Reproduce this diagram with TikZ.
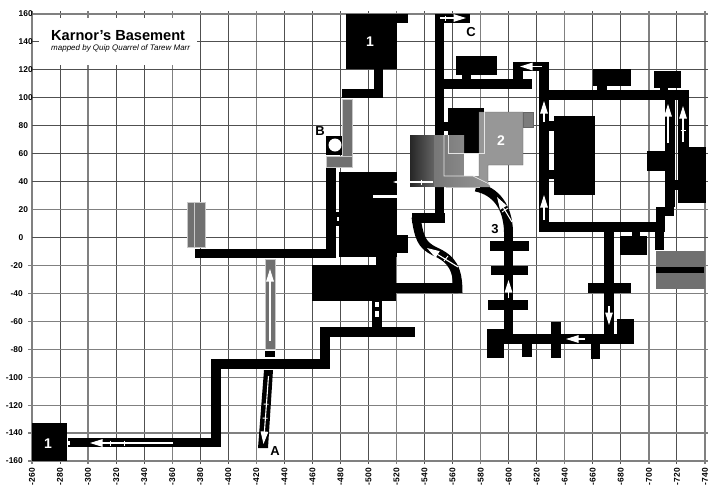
\documentclass[tikz,border=0pt]{standalone}
\usepackage{fontspec}
\setmainfont{Liberation Sans}
\usetikzlibrary{arrows.meta}
\definecolor{gridthick}{HTML}{808080}
\definecolor{gridthin}{HTML}{505050}
\definecolor{midgray}{HTML}{707070}
\definecolor{roomtwo}{HTML}{979797}
\definecolor{edgegray}{HTML}{C8C8C8}
\tikzset{
  solid room/.style={fill=black,draw=none},
  gray room/.style={fill=midgray,draw=edgegray,line width=.5pt},
  light room/.style={fill=roomtwo,draw=black!60,line width=.4pt},
  passage/.style={draw=black,line width=9pt,line cap=butt,line join=miter},
  wayline/.style={draw=white,line width=1.1pt,-{Triangle[length=12.5pt,width=7.5pt]}},
  waytick/.style={draw=white,line width=.9pt},
  hairline/.style={draw=white!90!black,line width=.7pt},
  mapletter/.style={font=\bfseries\fontsize{13}{13}\selectfont,inner sep=0pt},
  roomlabel/.style={font=\bfseries\fontsize{14}{14}\selectfont,text=white,inner sep=0pt},
  axislabel/.style={font=\bfseries\fontsize{8.4}{9}\selectfont,inner sep=0pt}
}
\begin{document}
\begin{tikzpicture}[x=1pt,y=-1pt]
\useasboundingbox (0,0) rectangle (720,496);
\fill[white] (0,0) rectangle (720,496);
% grid
\foreach \v in {260,280,...,740}{
  \pgfmathsetmacro\px{32+(\v-260)*1.402}
  \def\wid{.9pt}\def\col{gridthin}
  \foreach \t in {260,300,360,420,520,580,640,700,740}{\ifnum\t=\v\global\let\thickflag\v\fi}
  \ifx\thickflag\v\def\wid{1.3pt}\def\col{gridthick}\fi
  \draw[draw=\col,line width=\wid] (\px,11) -- (\px,464);
  \node[axislabel,rotate=90,anchor=east] at (\px,468) {-\v};
}
\foreach \v/\wid/\col in {160/1.5pt/gridthick,140/.9pt/gridthin,120/.9pt/gridthin,100/.9pt/gridthin,80/.9pt/gridthin,60/.9pt/gridthin,40/.9pt/gridthin,20/1.2pt/gridthick,0/1.1pt/gridthin}{
  \pgfmathsetmacro\py{237.5-\v*1.3969}
  \draw[draw=\col,line width=\wid] (32,\py) -- (708,\py);
  \node[axislabel,anchor=west] at (18.5,\py) {\v};
}
\foreach \v in {20,40,...,160}{
  \pgfmathsetmacro\py{237.5+\v*1.3969}
  \draw[draw=gridthick,line width=1.2pt] (28,\py) -- (708,\py);
  \node[axislabel,anchor=east] at (23,\py) {-\v};
}
% title
\fill[white] (39,18) rectangle (197,65);
\node[anchor=west,inner sep=0pt,font=\bfseries\fontsize{14.6}{15}\selectfont] (title) at (51,36) {Karnor's Basement};
\node[anchor=west,inner sep=0pt,font=\itshape\fontsize{8}{9}\selectfont] (subtitle) at (51,48) {mapped by Quip Quarrel of Tarew Marr};
% gray rooms left
\draw[gray room] (187,202) rectangle (205,247);
\draw[draw=edgegray,line width=.6pt] (194.5,202) -- (194.5,247);
\draw[gray room] (342,99) rectangle (352,167);
\draw[gray room] (326,156) rectangle (352,167);
\fill[midgray] (342.4,157) rectangle (351.6,166);
\draw[gray room] (265,259) rectangle (275,349);
% B room
\fill[solid room] (326,136) rectangle (342,155);
\fill[white] (335,145) circle (6.5);
% room 1 top and link
\fill[solid room] (346,14) rectangle (397,69);
\fill[solid room] (397,14) rectangle (408,23);
\fill[solid room] (374,69) rectangle (383,98);
\fill[solid room] (342,89) rectangle (383,98);
% west corridors
\fill[solid room] (326,168) rectangle (336,258);
\fill[solid room] (195,249) rectangle (336,258);
\fill[solid room] (336,212) rectangle (339,226);
\fill[white] (336.5,217) rectangle (339,221);
% big block
\fill[solid room] (339,172) rectangle (397,257);
\fill[solid room] (397,235) rectangle (408,253);
\fill[solid room] (376,253) rectangle (396,265);
\fill[solid room] (312,265) rectangle (396,301);
\fill[white] (373,195) rectangle (397,198);
% south link
\fill[solid room] (372,301) rectangle (382,327);
\fill[white] (375,302) rectangle (379,307);
\fill[white] (375,311) rectangle (379,317);
\fill[solid room] (320,327) rectangle (415,337);
\fill[solid room] (320,327) rectangle (330,369);
\fill[solid room] (211,359) rectangle (330,369);
\fill[solid room] (211,359) rectangle (221,447);
\fill[solid room] (68,438) rectangle (221,447);
\fill[solid room] (32,423) rectangle (67,461);
\fill[white] (67,441) rectangle (70,445);
\fill[solid room] (265,351) rectangle (275,357);
\fill[solid room] (264,370) -- (273,370) -- (268,448) -- (258,448) -- cycle;
% east corridor from big block
\fill[solid room] (396,283) rectangle (462,293);
\draw[passage] (416,217) .. controls (419,238) and (422,245) .. (434,251) .. controls (452,259) and (458,268) .. (458,293);
\fill[solid room] (412,213) rectangle (445,223);
\fill[solid room] (435,187) rectangle (444,223);
% north corridor
\fill[solid room] (435,14) rectangle (444,135);
\fill[solid room] (435,14) rectangle (470,23);
\fill[solid room] (456,56) rectangle (497,75);
\fill[solid room] (462,75) rectangle (471,79);
\fill[solid room] (444,79) rectangle (532,89);
\fill[solid room] (513,62) rectangle (549,71);
\fill[solid room] (513,62) rectangle (523,80);
% ring
\fill[solid room] (539,62) rectangle (549,232);
\fill[solid room] (539,90) rectangle (689,100);
\fill[solid room] (539,222) rectangle (665,232);
\fill[solid room] (554,116) rectangle (595,195);
\fill[solid room] (549,121) rectangle (554,131);
\fill[solid room] (549,170) rectangle (554,179);
\fill[solid room] (593,69) rectangle (631,86);
\fill[solid room] (597,86) rectangle (607,90);
\fill[solid room] (654,71) rectangle (681,88);
\fill[solid room] (660,88) rectangle (668,91);
\fill[solid room] (665,90) rectangle (675,207);
\fill[solid room] (678,90) rectangle (689,147);
\fill[solid room] (678,147) rectangle (706,203);
\fill[solid room] (647,151) rectangle (665,171);
\fill[solid room] (675,180) rectangle (678,190);
\fill[solid room] (656,207) rectangle (674,216);
\fill[solid room] (656,216) rectangle (665,232);
% south-east
\fill[solid room] (604,232) rectangle (614,344);
\fill[solid room] (632,232) rectangle (640,236);
\fill[solid room] (620,236) rectangle (647,255);
\fill[solid room] (655,232) rectangle (664,250);
\fill[midgray] (656,251) rectangle (705,289);
\fill[solid room] (656,267) rectangle (704,273);
\fill[solid room] (588,283) rectangle (631,293);
\fill[solid room] (503,334) rectangle (634,344);
\fill[solid room] (617,319) rectangle (634,344);
\fill[solid room] (522,344) rectangle (532,357);
\fill[solid room] (551,322) rectangle (561,358);
\fill[solid room] (591,344) rectangle (600,359);
\fill[solid room] (487,329) rectangle (504,358);
% south middle
\fill[solid room] (504,228) rectangle (513,334);
\fill[solid room] (490,241) rectangle (529,251);
\fill[solid room] (491,266) rectangle (528,275);
\fill[solid room] (488,300) rectangle (528,310);
\draw[passage] (476,187) .. controls (496,191) and (508,207) .. (508.5,232);
% hub rooms
\fill[solid room] (448,108) rectangle (484,153);
\fill[solid room] (444,122) rectangle (448,131);
\fill[solid room] (435,130) rectangle (444,135);
\fill[white] (444,131) rectangle (448,135);
\foreach \i in {0,...,23}{
  \pgfmathsetmacro\shadepct{int(85-\i)}
  \fill[black!\shadepct] (410+\i,135) rectangle (411.4+\i,187);
}
\shade[left color=midgray!95!white,right color=roomtwo] (434,135) -- (464,135) -- (464,176) -- (480,176) -- (490,186) -- (490,187) -- (434,187) -- cycle;
\fill[white] (464,153) rectangle (479,176);
\draw[light room] (479,112) -- (523,112) -- (523,165) -- (488,165) -- (488,184) -- (479,179) -- cycle;
\draw[light room,fill=midgray!70!roomtwo] (523,112) rectangle (533,127);
\draw[hairline] (484,112) -- (484,153) -- (448,153) -- (448,135);
\draw[hairline] (444,135) -- (444,176) -- (473,176) -- (489,184);
\draw[draw=white!75!black,line width=.8pt] (446,187) -- (480,187);
% way arrows
\draw[wayline] (173,443) -- (90,443);
\draw[waytick] (110,440.5) -- (110,445.5);
\draw[waytick] (124,440.5) -- (124,445.5);
\draw[wayline] (270,341) -- (270,269);
\draw[wayline] (268.5,376) -- (263.5,444);
\draw[waytick] (263.5,404) -- (268.5,404.3);
\draw[waytick] (262.5,418) -- (267.5,418.3);
\draw[wayline] (433,182) -- (393,182);
\draw[waytick] (421,179.5) -- (421,184.5);
\draw[wayline] (440,18) -- (466,18);
\draw[waytick] (445,15.5) -- (445,20.5);
\draw[wayline] (542,66.5) -- (520,66.5);
\draw[wayline] (544,122) -- (544,101);
\draw[wayline] (544,220) -- (544,195);
\draw[wayline] (668,143) -- (668,104);
\draw[wayline] (683,142) -- (683,106);
\draw[waytick] (680.5,130) -- (685.5,130);
\draw[wayline] (512,222) -- (497,197);
\draw[waytick] (502,212) -- (508,208);
\draw[wayline] (458,267) -- (427,248);
\draw[waytick] (444,261) -- (448,256);
\draw[wayline] (508.5,298) -- (508.5,280);
\draw[wayline] (609,306) -- (609,325);
\draw[wayline] (585,339) -- (566,339);
% labels
\node[roomlabel] (roomA) at (48,444) {1};
\node[roomlabel] (roomB) at (370,42) {1};
\node[roomlabel] (roomC) at (501,141) {2};
\node[mapletter] (labA) at (275,451) {A};
\node[mapletter] (labB) at (320,131) {B};
\node[mapletter] (labC) at (471,32) {C};
\node[mapletter] (labD) at (495,229) {3};
\end{tikzpicture}
\end{document}
